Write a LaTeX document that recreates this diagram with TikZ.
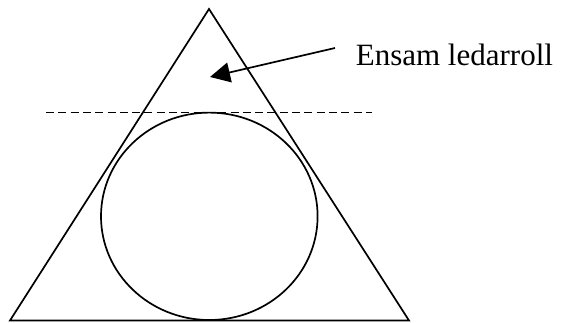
\documentclass[tikz,border=0pt]{standalone}
\usepackage{fontspec}
\setmainfont{Liberation Serif}
\usetikzlibrary{arrows.meta,positioning,calc}

\begin{document}
\begin{tikzpicture}[x=1pt, y=-1pt, >={Triangle[length=20pt,width=20pt]}, line width=1.7pt]
  \useasboundingbox (0,0) rectangle (562,322);
  \coordinate (top) at (209,9);
  \coordinate (botleft) at (10,320.5);
  \coordinate (botright) at (409,320.5);
  \draw (top) -- (botright) -- (botleft) -- cycle;
  \draw (209.3,216.3) ellipse [x radius=108.3pt, y radius=103.7pt];
  \coordinate (cutleft) at (46,112.5);
  \coordinate (cutright) at (372,112.5);
  \draw[dash pattern=on 8pt off 4.3pt] (cutleft) -- (cutright);
  \node[anchor=base west, inner sep=0pt, font=\fontsize{31}{37}\selectfont] (roll) at (355,65) {Ensam ledarroll};
  \coordinate (from) at (335,48);
  \coordinate (into) at (210,77);
  \draw[->] (from) -- (into);
\end{tikzpicture}
\end{document}
